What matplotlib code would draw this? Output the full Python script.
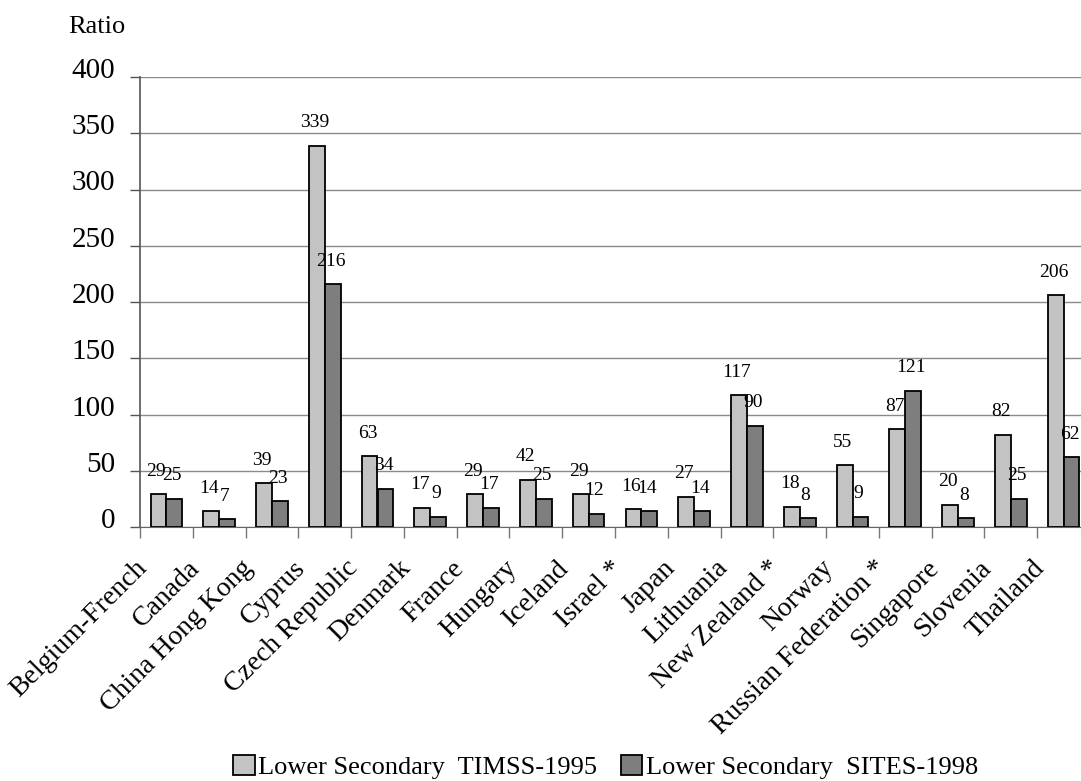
import numpy as np
import matplotlib
matplotlib.use("Agg")
import matplotlib.pyplot as plt
import matplotlib.transforms as mtransforms
from matplotlib.patches import Patch

plt.rcParams['font.family'] = ['Liberation Serif', 'DejaVu Serif']

countries = ['Belgium-French', 'Canada', 'China Hong Kong', 'Cyprus', 'Czech Republic',
             'Denmark', 'France', 'Hungary', 'Iceland', 'Israel *', 'Japan', 'Lithuania',
             'New Zealand *', 'Norway', 'Russian Federation *', 'Singapore', 'Slovenia',
             'Thailand']
timss_1995 = [29, 14, 39, 339, 63, 17, 29, 42, 29, 16, 27, 117, 18, 55, 87, 20, 82, 206]
sites_1998 = [25, 7, 23, 216, 34, 9, 17, 25, 12, 14, 14, 90, 8, 9, 121, 8, 25, 62]
yticks = [0, 50, 100, 150, 200, 250, 300, 350, 400]

W, H = 1081, 781
fig = plt.figure(figsize=(W / 100, H / 100), dpi=100)
# axes runs past the right edge of the canvas, as in the original scan
ax = fig.add_axes([140 / W, 254 / H, 950 / W, 450 / H])

x = np.arange(len(countries))
bw = 0.3
light = '#c3c3c3'
dark = '#7e7e7e'
ax.bar(x - bw / 2, timss_1995, bw, color=light, edgecolor='black', linewidth=1.3, zorder=3)
ax.bar(x + bw / 2, sites_1998, bw, color=dark, edgecolor='black', linewidth=1.3, zorder=3)

for xi, v in zip(x, timss_1995):
    ax.annotate(str(v), (xi - bw / 2, v), xytext=(-1.5, 16.5), textcoords='offset points',
                ha='center', va='center', fontsize=14, zorder=4)
for xi, v in zip(x, sites_1998):
    ax.annotate(str(v), (xi + bw / 2, v), xytext=(-1.5, 16.5), textcoords='offset points',
                ha='center', va='center', fontsize=14, zorder=4)

ax.set_xlim(-0.5, len(countries) - 0.5)
ax.set_ylim(0, 400)
ax.set_yticks(yticks)
ax.set_yticklabels([str(t) for t in yticks], fontsize=21)
ax.tick_params(axis='y', length=7, width=1, color='#555555', pad=11)
ax.grid(axis='y', color='#8a8a8a', linewidth=1, zorder=0)
ax.set_axisbelow(True)

# category labels on major ticks, boundary ticks as minor
ax.set_xticks(x)
ax.set_xticklabels(countries, rotation=45, ha='right', va='center',
                   rotation_mode='anchor', fontsize=20)
ax.tick_params(axis='x', which='major', length=0, pad=27)
ax.set_xticks(np.arange(len(countries)) - 0.5, minor=True)
ax.tick_params(axis='x', which='minor', length=8, width=1, color='#777777')

shift_x = mtransforms.ScaledTranslation(-23 / 100, 0, fig.dpi_scale_trans)
for lab in ax.get_xticklabels():
    lab.set_transform(lab.get_transform() + shift_x)
shift_y = mtransforms.ScaledTranslation(0, 9 / 100, fig.dpi_scale_trans)
for lab in ax.get_yticklabels():
    lab.set_transform(lab.get_transform() + shift_y)

for s in ['top', 'right']:
    ax.spines[s].set_visible(False)
ax.spines['left'].set_color('#555555')
ax.spines['bottom'].set_color('#666666')
ax.spines['left'].set_linewidth(1.2)

fig.text(68 / W, 1 - 27 / H, 'Ratio', ha='left', va='center', fontsize=19)

handles = [Patch(facecolor=light, edgecolor='black', linewidth=1.3),
           Patch(facecolor=dark, edgecolor='black', linewidth=1.3)]
fig.legend(handles, ['Lower Secondary  TIMSS-1995', 'Lower Secondary  SITES-1998'],
           loc='center', bbox_to_anchor=(606 / W, 1 - 767 / H), ncol=2, frameon=False,
           fontsize=19, handlelength=0.8, handleheight=0.8, handletextpad=0.15,
           columnspacing=0.9)

fig.savefig('out.png', dpi=100)
